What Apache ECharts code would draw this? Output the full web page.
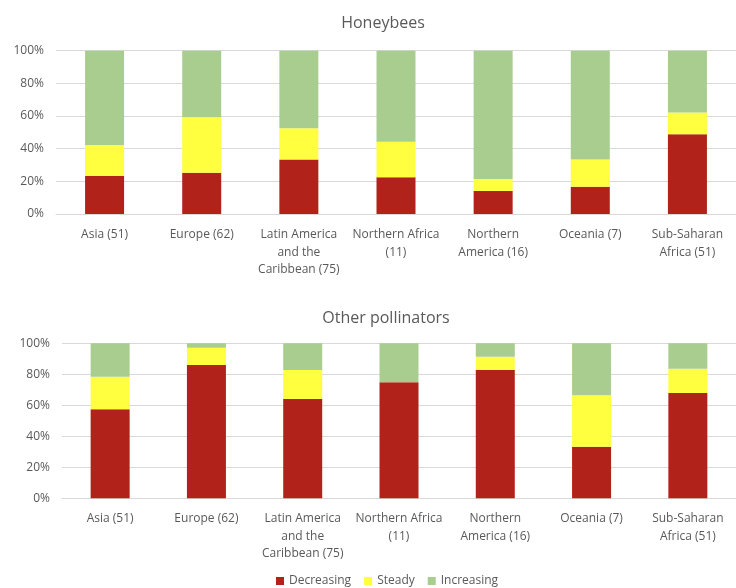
<!DOCTYPE html>
<html>
<head>
<meta charset="utf-8">
<script src="https://cdn.jsdelivr.net/npm/echarts@6/dist/echarts.min.js"></script>
<style>html,body{margin:0;padding:0;background:#fff}#c{width:736px;height:588px}</style>
</head>
<body>
<div id="c"></div>
<script>
var categories = ['Asia (51)', 'Europe (62)', 'Latin America\nand the\nCaribbean (75)', 'Northern Africa\n(11)', 'Northern\nAmerica (16)', 'Oceania (7)', 'Sub-Saharan\nAfrica (51)'];
var yTicks = [0, 20, 40, 60, 80, 100];

var beesDecreasing = [23.3, 25.3, 33.3, 22.5, 14.1, 16.7, 48.8];
var beesSteady     = [19.0, 33.9, 19.2, 21.8, 7.3, 16.6, 13.3];
var beesIncreasing = [57.7, 40.8, 47.5, 55.7, 78.6, 66.7, 37.9];

var otherDecreasing = [57.4, 86.0, 64.0, 74.8, 82.8, 33.3, 68.0];
var otherSteady     = [21.1, 11.2, 18.8, 0, 8.6, 33.2, 15.6];
var otherIncreasing = [21.5, 2.8, 17.2, 25.2, 8.6, 33.5, 16.4];

var seriesNames = ['Decreasing', 'Steady', 'Increasing'];
var colors = ['#B0221A', '#FFFF40', '#A9CD8F'];
var textColor = '#595959';
var fontFam = '"Open Sans", sans-serif';

function xAx(gi) {
  return {
    type: 'category', gridIndex: gi, data: categories,
    axisLine: {lineStyle: {color: '#D9D9D9'}},
    axisTick: {show: false},
    axisLabel: {color: textColor, fontSize: 12, fontFamily: fontFam, lineHeight: 17.5, margin: 12, interval: 0}
  };
}
function yAx(gi) {
  return {
    type: 'value', gridIndex: gi, min: yTicks[0], max: yTicks[yTicks.length - 1], interval: 20,
    axisLine: {show: false}, axisTick: {show: false},
    splitLine: {lineStyle: {color: '#D9D9D9'}},
    axisLabel: {color: textColor, fontSize: 12, fontFamily: fontFam, margin: 12, formatter: '{value}%'}
  };
}
function bar(name, data, gi, ci, stack) {
  return {
    name: name, type: 'bar', stack: stack, xAxisIndex: gi, yAxisIndex: gi,
    data: data, barWidth: 39, itemStyle: {color: colors[ci]}
  };
}

var chart = echarts.init(document.getElementById('c'), null, {renderer: 'canvas'});
chart.setOption({
  animation: false,
  title: [
    {text: 'Honeybees', left: 378, top: 10, textAlign: 'center',
     textStyle: {color: textColor, fontSize: 16, fontWeight: 'normal', fontFamily: fontFam}},
    {text: 'Other pollinators', left: 381, top: 305, textAlign: 'center',
     textStyle: {color: textColor, fontSize: 16, fontWeight: 'normal', fontFamily: fontFam}}
  ],
  legend: {
    data: seriesNames, top: 570, left: 271, itemWidth: 8, itemHeight: 8, itemGap: 13,
    icon: 'rect',
    textStyle: {color: textColor, fontSize: 12, fontFamily: fontFam}
  },
  grid: [
    {left: 56, top: 50.7, width: 683, height: 163.3},
    {left: 62, top: 343.3, width: 677, height: 155}
  ],
  xAxis: [xAx(0), xAx(1)],
  yAxis: [yAx(0), yAx(1)],
  series: [
    bar(seriesNames[0], beesDecreasing, 0, 0, 'a'),
    bar(seriesNames[1], beesSteady, 0, 1, 'a'),
    bar(seriesNames[2], beesIncreasing, 0, 2, 'a'),
    bar(seriesNames[0], otherDecreasing, 1, 0, 'b'),
    bar(seriesNames[1], otherSteady, 1, 1, 'b'),
    bar(seriesNames[2], otherIncreasing, 1, 2, 'b')
  ]
});
</script>
</body>
</html>
